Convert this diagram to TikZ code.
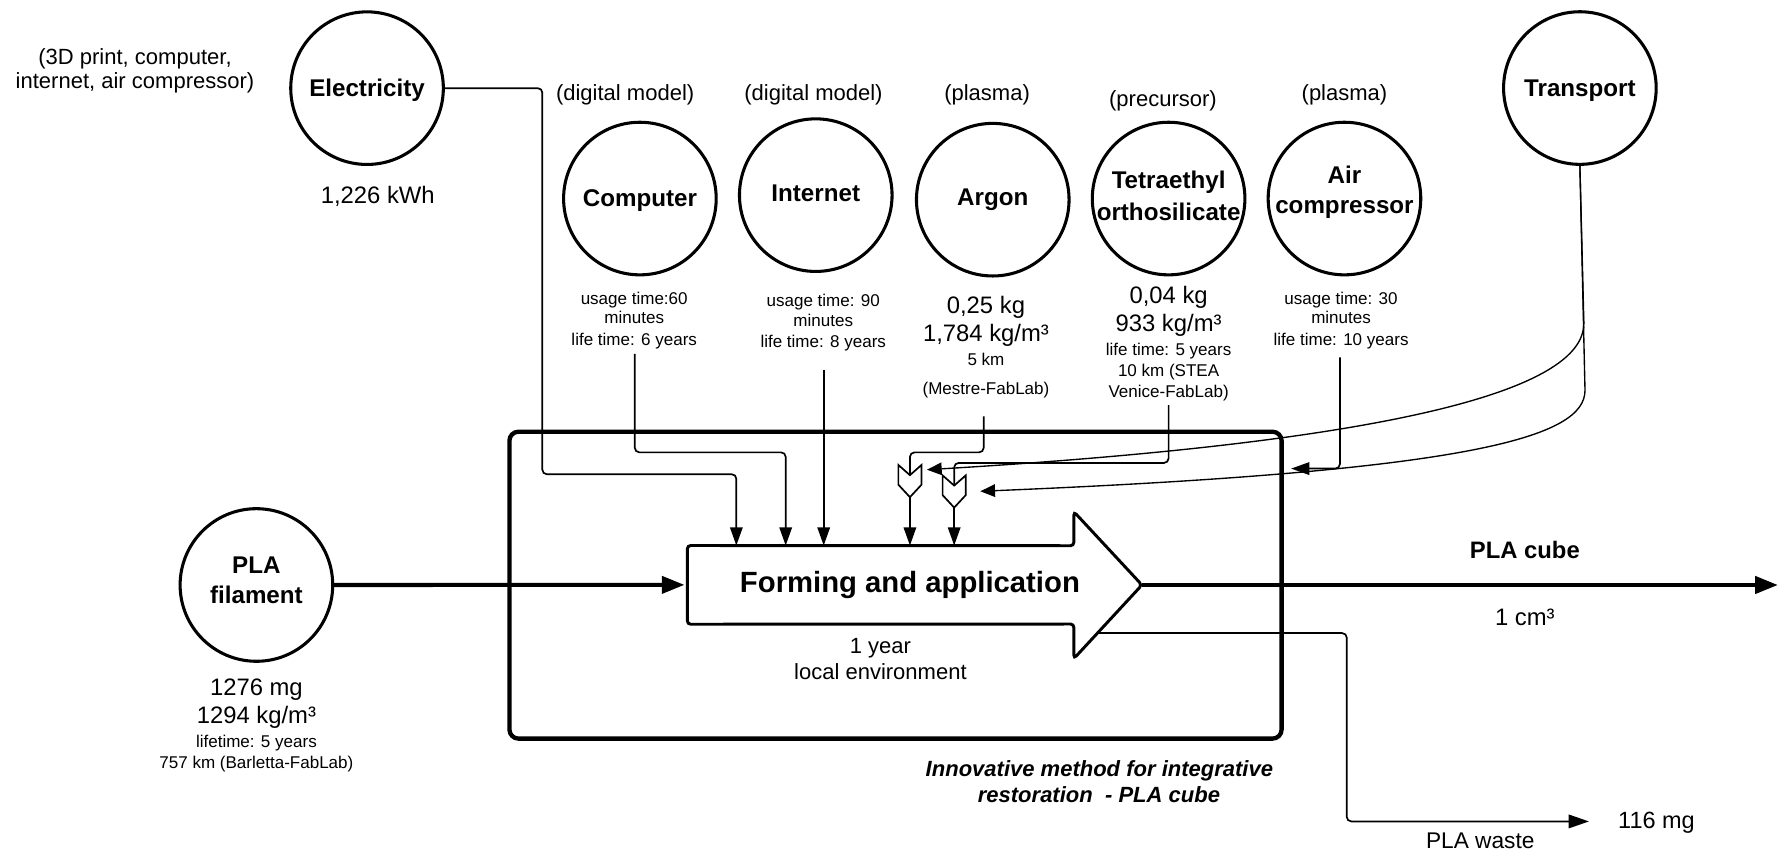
\documentclass[tikz,border=0pt]{standalone}
\usepackage{fontspec}
\setmainfont{Liberation Sans}
\usetikzlibrary{arrows.meta,calc}
\newcommand\fsz[2]{\fontsize{#1}{#2}\selectfont}
\begin{document}
\begin{tikzpicture}[x=1pt,y=-1pt,
  circ/.style={circle,draw,line width=2.7pt,minimum size=134.5pt,inner sep=0pt},
  tl/.style={anchor=base,inner sep=0pt},
  bl/.style={tl,font=\bfseries\fsz{21.3}{26}},
  sm/.style={tl,font=\fsz{15}{18}},
  md/.style={tl,font=\fsz{21}{25}},
  lb/.style={tl,font=\fsz{19.4}{22}},
  conn/.style={line width=1.5pt,rounded corners=4pt},
  arr/.style={conn,-{Triangle[length=16pt,width=11pt]}},
  curv/.style={line width=1.2pt,-{Triangle[length=13pt,width=11pt]}},
  bigarr/.style={line width=3.6pt,-{Triangle[length=20pt,width=15pt]}},
  chevbox/.style={minimum width=20pt,minimum height=28pt,inner sep=0pt},
  chevline/.style={draw,fill=white,line width=1.5pt,line join=miter},
]
\useasboundingbox (0,0) rectangle (1568,752);
\fill[white] (0,0) rectangle (1568,752);

% container box
\node[draw,rounded corners=8pt,line width=3.8pt,minimum width=680.6pt,minimum height=270.5pt,inner sep=0pt] (box) at (789.3,515.75) {};

% forming arrow
\node[minimum width=340.5pt,minimum height=69pt,inner sep=0pt] (form) at (776.25,515.5) {};
\coordinate (ftip) at (1006.5,515.6);
\coordinate (fwaste) at (967.4,558);
\draw[line width=2.6pt,rounded corners=3pt,fill=white] (form.north west) -- (946.5,481) -- (946.5,451) -- (ftip) -- (946.5,580.5) -- (946.5,550) -- (form.south west) -- cycle;
\node[tl,font=\bfseries\fsz{25.8}{30}] (formt) at (802,522) {Forming and application};
\node[lb] (yr) at (776,576) {1 year};
\node[lb] (env) at (776,599) {local environment};

% left note
\node[lb] (n3a) at (119,57) {(3D print, computer,};
\node[lb] (n3b) at (119,78) {internet, air compressor)};

% circles
\node[circ] (elec) at (323.5,77.7) {};
\node[bl] (elecl) at (323.5,84.7) {Electricity};
\node[md] (kwh) at (333,179.6) {1,226 kWh};

\node[circ] (comp) at (564,175) {};
\node[circ] (inet) at (719,172) {};
\node[circ] (argon) at (875,176) {};
\node[circ] (teos) at (1030,175) {};
\node[circ] (air) at (1185,175) {};
\node[circ] (tr) at (1392.5,77.6) {};
\node[circ] (pla) at (226,515.6) {};

\node[bl] (compl) at (564,181.7) {Computer};
\node[bl] (inetl) at (719,177.7) {Internet};
\node[bl] (argl) at (875,180.7) {Argon};
\node[bl] (teosl1) at (1030,166.3) {Tetraethyl};
\node[bl] (teosl2) at (1030,194.3) {orthosilicate};
\node[bl] (airl1) at (1185,161.7) {Air};
\node[bl] (airl2) at (1185,188.2) {compressor};
\node[bl] (trl) at (1392.5,84.7) {Transport};
\node[bl] (plal1) at (226,505.7) {PLA};
\node[bl] (plal2) at (226,532.1) {filament};

% labels above
\node[lb] (u1) at (551,89) {(digital model)};
\node[lb] (u2) at (717,89) {(digital model)};
\node[lb] (u3) at (870,89) {(plasma)};
\node[lb] (u4) at (1025,93.5) {(precursor)};
\node[lb] (u5) at (1185,89) {(plasma)};

% texts under circles
\node[sm] (c1) at (559,268.4) {usage time:60};
\node[sm] (c2) at (559,285.4) {minutes};
\node[sm] (c3) at (559,304.4) {life time: 6 years};
\node[sm] (i1) at (725.6,269.9) {usage time: 90};
\node[sm] (i2) at (725.6,288) {minutes};
\node[sm] (i3) at (725.6,306.4) {life time: 8 years};
\node[md] (a1) at (869,276.6) {0,25 kg};
\node[md] (a2) at (869,301.3) {1,784 kg/m³};
\node[sm] (a3) at (869,322) {5 km};
\node[sm] (a4) at (869,347.4) {(Mestre-FabLab)};
\node[md] (t1) at (1030,267.6) {0,04 kg};
\node[md] (t2) at (1030,292.6) {933 kg/m³};
\node[sm] (t3) at (1030,313) {life time: 5 years};
\node[sm] (t4) at (1030,332.1) {10 km (STEA};
\node[sm] (t5) at (1030,350) {Venice-FabLab)};
\node[sm] (r1) at (1182,268.4) {usage time: 30};
\node[sm] (r2) at (1182,285.4) {minutes};
\node[sm] (r3) at (1182,304.4) {life time: 10 years};
\node[md] (p1) at (226,612.6) {1276 mg};
\node[md] (p2) at (226,637.6) {1294 kg/m³};
\node[sm] (p3) at (226,658.4) {lifetime: 5 years};
\node[sm] (p4) at (226,677.1) {757 km (Barletta-FabLab)};

% output labels
\node[tl,font=\bfseries\fsz{21}{25}] (cube) at (1344,492.3) {PLA cube};
\node[md] (cm) at (1344,551.1) {1 cm³};
\node[tl,font=\bfseries\itshape\fsz{19.4}{22}] (in1) at (969,684) {Innovative method for integrative};
\node[tl,font=\bfseries\itshape\fsz{19.4}{22}] (in2) at (968.6,707.7) {restoration\ \ - PLA cube};
\node[tl,font=\fsz{20.7}{24}] (mg) at (1460,730) {116 mg};
\node[tl,font=\fsz{20}{24}] (waste) at (1304.7,747.5) {PLA waste};

% connector free ends
\coordinate (compS) at (559.5,312);
\coordinate (inetS) at (726,326);
\coordinate (argS) at (867,367);
\coordinate (teosS) at (1030,357);
\coordinate (airS) at (1181,315);
\coordinate (airE) at (1138,413);
\coordinate (t1E) at (817,414);
\coordinate (t2E) at (864,433);
\coordinate (outE) at (1567,515.6);
\coordinate (wasteE) at (1400.5,724);

% chevron anchors
\node[chevbox] (ch1) at (802,424) {};
\node[chevbox] (ch2) at (841,433.2) {};

% connectors
\draw[arr] (elec.east) -- (478,77.7) -- (478,418) -- (649,418) -- (649,0 |- form.north);
\draw[arr] (compS) -- (559.5,398.7) -- (692.5,398.7) -- (692.5,0 |- form.north);
\draw[arr] (inetS) -- (726,0 |- form.north);
\draw[conn] (argS) -- (867,398.7) -- (802,398.7) -- (ch1.center);
\draw[conn] (teosS) -- (1030,408) -- (841,408) -- (ch2.center);
\draw[arr] (airS) -- (1181,413) -- (airE);
\draw[curv] (tr.south) -- (1396,285) .. controls (1396,330) and (1300,385) .. (t1E);
\draw[curv] (tr.south) -- (1397,344) .. controls (1397,385) and (1300,415) .. (t2E);

% chevrons
\foreach \c in {ch1,ch2}{
  \draw[chevline] (\c.north west) -- ($(\c.north)+(0,9)$) -- (\c.north east) -- ($(\c.south east)+(0,-11)$) -- (\c.south) -- ($(\c.south west)+(0,-11)$) -- cycle;
}
\draw[arr] (ch1.south) -- (802,0 |- form.north);
\draw[arr] (ch2.south) -- (841,0 |- form.north);

\draw[bigarr,shorten >=2.5pt] (pla.east) -- (form.west);
\draw[bigarr] (ftip) -- (outE);
\draw[conn,-{Triangle[length=18pt,width=12pt]}] (fwaste) -- (1187,558) -- (1187,724) -- (wasteE);
\end{tikzpicture}
\end{document}
